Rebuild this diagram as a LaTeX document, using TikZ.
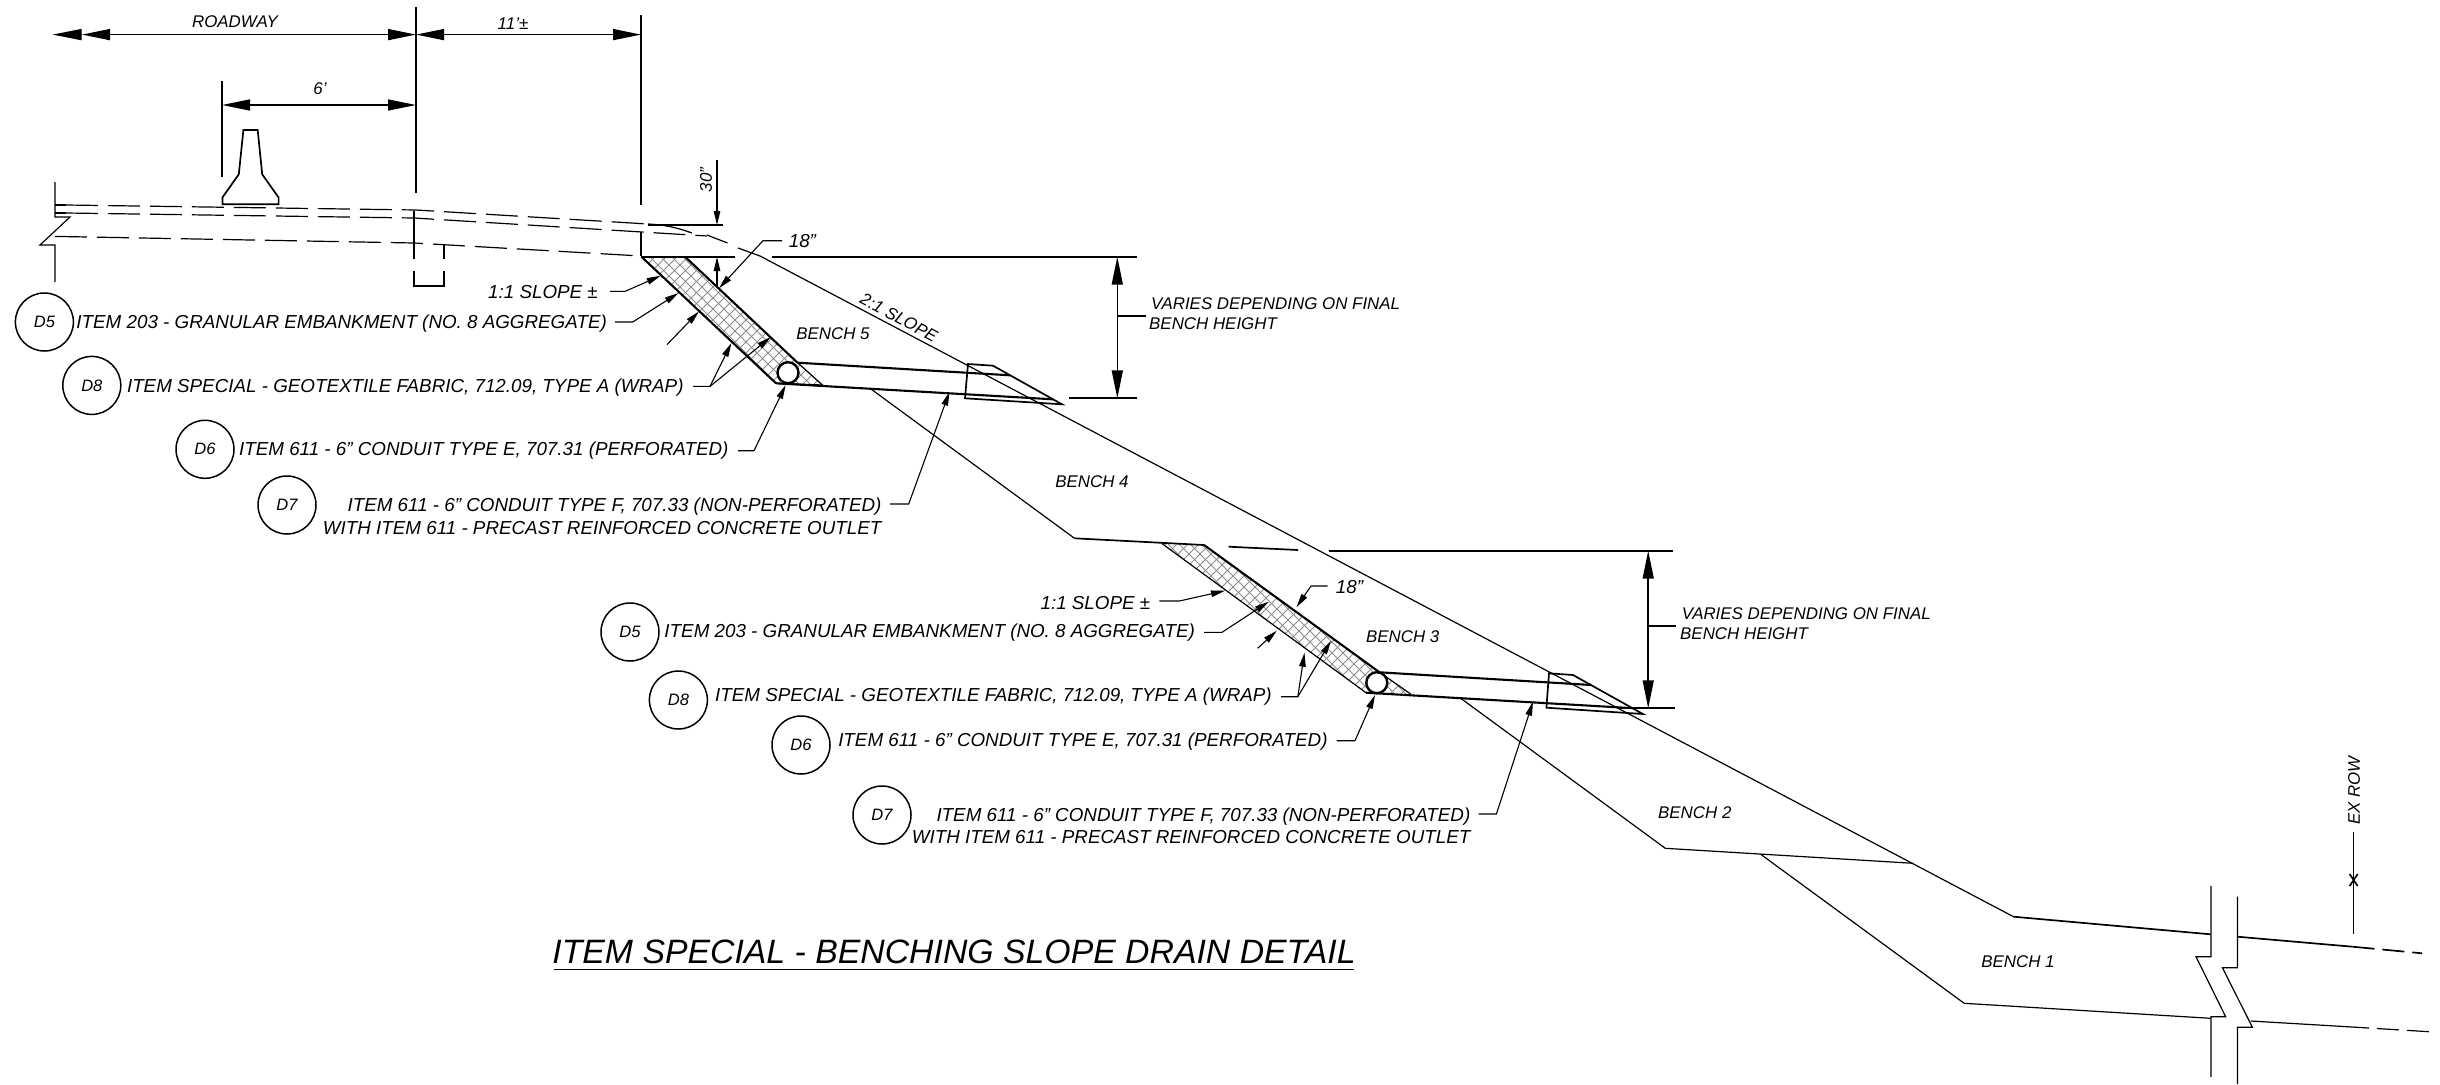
\documentclass[tikz,border=0pt]{standalone}
\usepackage{fontspec}
\setmainfont{Liberation Sans}
\usetikzlibrary{arrows.meta}
\tikzset{
  lbl/.style={inner sep=0pt,font=\fontsize{18.8}{20}\selectfont\itshape},
  small/.style={inner sep=0pt,font=\fontsize{16.9}{18}\selectfont\itshape},
  thin line/.style={line width=1.2pt,draw=black},
  heavy/.style={line width=2.1pt,draw=black},
  med/.style={line width=1.7pt,draw=black},
  dashline/.style={line width=1.2pt,draw=black,dash pattern=on 32pt off 10pt},
  bigarrow/.style={line width=1.5pt,{Triangle[length=28pt,width=11pt]}-{Triangle[length=28pt,width=11pt]}},
  bighead/.style={line width=1.5pt,{Triangle[length=29pt,width=11pt]}-},
  lead/.style={line width=1.1pt,-{Triangle[length=14pt,width=6.5pt]}},
  balloon/.style={circle,draw=black,line width=1.5pt,minimum size=58pt,inner sep=0pt,font=\fontsize{16.5}{18}\selectfont\itshape},
  hatchline/.style={line width=0.8pt,draw=black!45}
}
\newcommand{\hatchfill}[2]{%
  \foreach \c in {-1600,-1589,...,1600}{
    \draw[hatchline] ({#1+\c},#2) -- ({#1+\c+400},{#2+400});
    \draw[hatchline] ({#1+\c},#2) -- ({#1+\c-400},{#2+400});
  }}
\begin{document}
\begin{tikzpicture}[x=1pt,y=-1pt]
\useasboundingbox (0,0) rectangle (2440,1084);
% hatched drains
\begin{scope}
 \clip (641.4,256.7) -- (685,256.7) -- (822.5,385) -- (776,383.3) -- cycle;
 \hatchfill{641}{100}
\end{scope}
\begin{scope}
 \clip (1161.6,543.3) -- (1204,545) -- (1410.7,694) -- (1366,692.7) -- cycle;
 \hatchfill{1161}{400}
\end{scope}
% drain edges
\draw[heavy] (685,256.7) -- (797.5,362.7);
\draw[heavy] (641.4,256.7) -- (776,383.3);
\draw[thin line] (776,383.3) -- (822.5,385);
\draw[thin line] (797.5,362.7) -- (822.5,385);
\draw[heavy] (1204,545) -- (1379.5,672.3);
\draw[thin line] (1161.6,543.3) -- (1366,692.7);
\draw[thin line] (1379.5,672.3) -- (1410.7,694);
% top lines
\draw[heavy] (641,256.7) -- (735,256.7);
\draw[med] (772,256.7) -- (1137,256.7);
\draw[med] (1074.5,538.3) -- (1204,545);
\draw[med] (1228.6,546.7) -- (1298,550);
\draw[med] (1328.6,550.7) -- (1672.8,550.7);
% conduits
\draw[heavy] (797.5,362.7) -- (1010,375.3);
\draw[heavy] (776,383.3) -- (1053,399.3);
\draw[heavy] (1379.5,672.3) -- (1591.5,685);
\draw[heavy] (1366,692.7) -- (1634.8,708.3);
\draw[med,line join=miter] (968,364) -- (993,365.7) -- (1062,404.3) -- (965,398.3) -- cycle;
\draw[med,line join=miter] (1549,673.3) -- (1573,675) -- (1642.9,714) -- (1546.4,707.7) -- cycle;
\node[circle,draw=black,fill=white,line width=2.4pt,minimum size=21pt,inner sep=0pt] (pipeA) at (788,372.7) {};
\node[circle,draw=black,fill=white,line width=2.4pt,minimum size=21pt,inner sep=0pt] (pipeB) at (1376.8,682.7) {};
% slopes
\draw[thin line] (760,256) -- (2013.5,916.7);
\draw[thin line] (870,388.3) -- (1074.5,538.3);
\draw[thin line] (1460.7,698.3) -- (1665.3,848.3) -- (1913.3,863.3);
\draw[thin line] (1760.7,854.3) -- (1964.2,1003.3) -- (2210.6,1018.3);
\draw[med] (2013.5,916.7) -- (2210.6,934.3);
\draw[med] (2237.4,936.7) -- (2352.5,946.7);
\draw[med,dash pattern=on 22pt off 8pt] (2352.5,946.7) -- (2422,953.3);
\draw[thin line] (2250.8,1021) -- (2347,1026.7);
\draw[thin line,dash pattern=on 22pt off 8pt] (2347,1026.7) -- (2429,1031.7);
% break
\draw[thin line] (2211,886) -- (2211,956.7) -- (2196,956.7) -- (2225.6,1016.7) -- (2211,1016.7) -- (2211,1077);
\draw[thin line] (2237.4,896.7) -- (2237.4,967.7) -- (2222.4,967.7) -- (2252.4,1027.3) -- (2237.4,1027.3) -- (2237.4,1084);
% EX ROW
\draw[thin line] (2353.6,831.7) -- (2353.6,934);
\draw[line width=1.6pt] (2349.6,874) -- (2357.6,886) (2357.6,874) -- (2349.6,886);
\node[inner sep=0pt,rotate=90,font=\fontsize{16.8}{18}\selectfont\itshape] (exrow) at (2354,790.7) {EX ROW};
% road
\draw[thin line] (55,182) -- (55,217) -- (70,217) -- (40,245) -- (55,245) -- (55,282);
\draw[thin line] (55,205) -- (66,205) (55,213) -- (66,213);
\draw[dashline] (66,205) -- (416,210) -- (648,224);
\draw[thin line] (648,224) .. controls (665,225) and (675,227) .. (692,233);
\draw[thin line] (707,235) -- (727.5,243);
\draw[thin line] (738,248) -- (760,256);
\draw[dashline] (66,213) -- (414,218) -- (707,236);
\draw[dashline] (55,236.4) -- (414,243) -- (641,256);
% barrier
\draw[med] (222.4,204.3) -- (222.4,197.5) -- (238.8,174.3) -- (243.4,130) -- (257.7,130) -- (262.2,174.3) -- (278.6,197.5) -- (278.6,204.3) -- cycle;
% extension lines
\draw[thin line] (416,7) -- (416,193);
\draw[thin line] (641,15) -- (641,205);
\draw[thin line] (641,232) -- (641,256);
\draw[thin line] (222,81) -- (222,177);
\draw[thin line] (414,211) -- (414,259);
\draw[thin line] (414,271) -- (414,286) -- (444,286) -- (444,271);
\draw[thin line] (444,245) -- (444,259);
% dimensions
\coordinate (rl) at (82,34.6); \coordinate (rl0) at (52.5,34.6); \coordinate (rr) at (416,34.6); \coordinate (er) at (641,34.6);
\draw[bighead] (rl0) -- (rl);
\draw[bigarrow] (rl) -- (rr);
\draw[bigarrow] (rr) -- (er);
\coordinate (sl) at (222,105); \coordinate (sr) at (416,105);
\draw[bigarrow] (sl) -- (sr);
\draw[bigarrow] (1117.3,256.7) -- (1117.3,398.3);
\draw[bigarrow] (1648.2,550.7) -- (1648.2,708.3);
\draw[med] (1069.4,398) -- (1137,398);
\draw[thin line] (1117.3,316) -- (1146,316);
\draw[med] (1620,708.3) -- (1675,708.3);
\draw[thin line] (1648.2,626) -- (1676,626);
% 30 in
\draw[thin line] (648,225) -- (723,225);
\draw[lead] (717,160) -- (717,225);
\draw[lead] (717,287) -- (717,257);
% text
\node[small] (roadway) at (235,22) {ROADWAY};
\node[small] (eleven) at (513,24) {11'±};
\node[small] (six) at (320,89) {6'};
\node[small,rotate=90] (thirty) at (706,180) {30"};
\node[small] (bench5) at (833,334) {BENCH 5};
\node[small] (bench4) at (1092,482) {BENCH 4};
\node[small] (bench3) at (1402.7,637) {BENCH 3};
\node[small] (bench2) at (1694.8,812.3) {BENCH 2};
\node[small] (bench1) at (2018,961.7) {BENCH 1};
\node[small,rotate=-28] (slope) at (899,317.7) {2:1 SLOPE};
\node[small,anchor=west] (var1a) at (1151,304) {VARIES DEPENDING ON FINAL};
\node[small,anchor=west] (var1b) at (1149,324) {BENCH HEIGHT};
\node[small,anchor=west] (var2a) at (1681.7,614) {VARIES DEPENDING ON FINAL};
\node[small,anchor=west] (var2b) at (1680,634) {BENCH HEIGHT};
\node[lbl,anchor=base west] (ta18) at (788.6,247.5) {18"};
\node[lbl,anchor=base west] (tb18) at (1335.7,593) {18"};
\node[lbl,anchor=base east] (ta1) at (598,298) {1:1 SLOPE ±};
\node[lbl,anchor=base east] (tb1) at (1150.4,609) {1:1 SLOPE ±};
\node[balloon] (ad5) at (44.4,322) {D5};
\node[balloon] (ad8) at (91.8,385.4) {D8};
\node[balloon] (ad6) at (205,449.3) {D6};
\node[balloon] (ad7) at (287,505) {D7};
\node[balloon] (bd5) at (630,632) {D5};
\node[balloon] (bd8) at (678.4,700) {D8};
\node[balloon] (bd6) at (801,745) {D6};
\node[balloon] (bd7) at (882,815) {D7};
\node[lbl,anchor=base east] (at5) at (607,328) {ITEM 203 - GRANULAR EMBANKMENT (NO. 8 AGGREGATE)};
\node[lbl,anchor=base east] (at8) at (683.7,392.4) {ITEM SPECIAL - GEOTEXTILE FABRIC, 712.09, TYPE A (WRAP)};
\node[lbl,anchor=base east] (at6) at (728.6,455.7) {ITEM 611 - 6" CONDUIT TYPE E, 707.31 (PERFORATED)};
\node[lbl,anchor=base east] (at7) at (881.6,511.7) {ITEM 611 - 6" CONDUIT TYPE F, 707.33 (NON-PERFORATED)};
\node[lbl,anchor=base east] (at7b) at (881.6,534) {WITH ITEM 611 - PRECAST REINFORCED CONCRETE OUTLET};
\node[lbl,anchor=base east] (bt5) at (1195,637.7) {ITEM 203 - GRANULAR EMBANKMENT (NO. 8 AGGREGATE)};
\node[lbl,anchor=base east] (bt8) at (1271.9,701.7) {ITEM SPECIAL - GEOTEXTILE FABRIC, 712.09, TYPE A (WRAP)};
\node[lbl,anchor=base east] (bt6) at (1327.7,746) {ITEM 611 - 6" CONDUIT TYPE E, 707.31 (PERFORATED)};
\node[lbl,anchor=base east] (bt7) at (1470.5,821.7) {ITEM 611 - 6" CONDUIT TYPE F, 707.33 (NON-PERFORATED)};
\node[lbl,anchor=base east] (bt7b) at (1470.5,843.4) {WITH ITEM 611 - PRECAST REINFORCED CONCRETE OUTLET};
\node[inner sep=0pt,font=\fontsize{33.8}{36}\selectfont\itshape,anchor=base] (title) at (954,963) {ITEM SPECIAL - BENCHING SLOPE DRAIN DETAIL};
\draw[med] (554,969.5) -- (1354,969.5);
% leaders A
\draw[lead] (782,240.7) -- (763,240.7) -- (719,288.3);
\draw[lead] (610,291.4) -- (625,291.4) -- (660.7,275.7);
\draw[lead] (615,322) -- (632.7,322) -- (678.6,293);
\draw[lead] (667,344.6) -- (699,311.4);
\draw[lead] (693,386.4) -- (710,386.4) -- (731.4,343);
\draw[lead] (710,386.4) -- (770.7,337);
\draw[lead] (738,450.7) -- (754,450.7) -- (785.7,385);
\draw[lead] (890,504) -- (908.7,504) -- (949.5,391.7);
% leaders B
\draw[lead] (1327.7,586) -- (1311,586) -- (1296.4,607.3);
\draw[lead] (1159.4,601) -- (1179.5,601) -- (1225,590.7);
\draw[lead] (1204,632.3) -- (1222,632.3) -- (1268.8,601.7);
\draw[lead] (1257.6,648.3) -- (1276.8,630.7);
\draw[lead] (1281,696.7) -- (1297.8,696.7) -- (1304.5,652.7);
\draw[lead] (1297.8,696.7) -- (1331,640.7);
\draw[lead] (1336.6,740.7) -- (1355,740.7) -- (1375,695);
\draw[lead] (1478.6,814) -- (1496.4,814) -- (1533,701.7);
\end{tikzpicture}
\end{document}
